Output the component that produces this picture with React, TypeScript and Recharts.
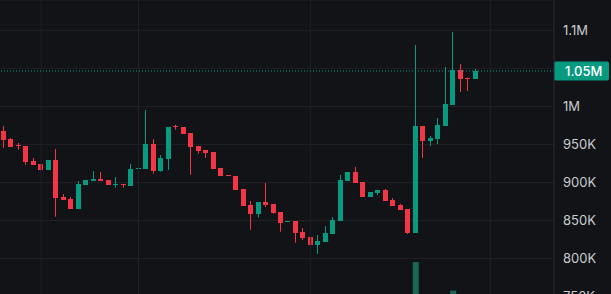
import React from "react";
import {Bar, CartesianGrid, Cell, ComposedChart, ReferenceLine, XAxis, YAxis} from "recharts";

const UP = "#089981";
const DOWN = "#f23645";
const BG = "#121316";
const GRID = "#1f2126";

// 64 candles, then empty slots on the right (chart offset)
const opens = [
    967700, 956800, 948900, 947900, 928200, 924300, 916400, 929500, 880800, 878200,
    865100, 896600, 902300, 904500, 903200, 897000, 897900, 895700, 917700, 917700,
    950600, 915400, 930800, 973800, 972900, 965000, 947900, 942700, 940000, 919000,
    909800, 908500, 891400, 870300, 858900, 874300, 871600, 861100, 848400, 849300,
    834800, 828200, 817700, 821600, 832200, 849300, 901900, 913700, 900600, 880800,
    886100, 890100, 876900, 870300, 865100, 833500, 974200, 954500, 957100, 974200,
    1001900, 1047900, 1037800, 1036100,
];
const highs = [
    974200, 958500, 951900, 947900, 932200, 924500, 929500, 944000, 884800, 880800,
    901900, 903200, 915000, 913700, 903200, 907200, 897900, 924300, 922000, 995300,
    957100, 936100, 972900, 976000, 972900, 965000, 947900, 942700, 940000, 919000,
    909800, 908500, 891400, 875600, 874300, 899300, 871600, 861100, 849300, 849300,
    840100, 828200, 830900, 842700, 854500, 909800, 913700, 920300, 900600, 887400,
    890100, 891400, 879500, 871600, 865100, 1080800, 974200, 961100, 984800, 1051900,
    1097900, 1055800, 1037800, 1049200,
];
const lows = [
    945700, 947000, 943100, 923300, 922900, 916000, 916400, 854900, 876900, 865100,
    865100, 896600, 902300, 901900, 897000, 893100, 893100, 895700, 915400, 917700,
    911500, 914100, 916400, 969400, 964100, 910200, 937800, 932200, 918100, 908900,
    908900, 890400, 869400, 837800, 853600, 867700, 858900, 835200, 848400, 820700,
    824300, 816400, 805900, 821600, 832200, 849300, 901900, 899300, 880800, 880800,
    883500, 875600, 869000, 863700, 832200, 833500, 932200, 947900, 950600, 974200,
    1001900, 1019000, 1020300, 1036100,
];
const closes = [
    956200, 947000, 947500, 927300, 922900, 916400, 929500, 879900, 876900, 865100,
    897900, 903200, 904500, 901900, 897000, 898300, 896600, 917700, 919400, 950600,
    915400, 932200, 972900, 972500, 964100, 947000, 941800, 938700, 918100, 908900,
    908900, 890400, 869400, 858900, 874300, 870300, 860200, 847000, 849300, 833900,
    826900, 817700, 823000, 833500, 850600, 903200, 913700, 899300, 880800, 887400,
    890100, 875600, 869000, 863700, 833500, 974200, 954500, 958500, 975600, 1003200,
    1047900, 1036100, 1036100, 1046600,
];
const volumes = [
    14, 10, 8, 16, 9, 10, 12, 38, 9, 12,
    20, 9, 10, 9, 7, 8, 6, 16, 7, 36,
    30, 14, 28, 10, 9, 22, 8, 9, 14, 10,
    5, 12, 15, 20, 16, 14, 10, 14, 6, 15,
    10, 11, 12, 10, 14, 34, 10, 12, 13, 8,
    7, 11, 8, 7, 20, 88, 30, 12, 24, 42,
    54, 26, 12, 10,
];
const EMPTY_SLOTS = 10;
const timeGridSlots = [5, 18, 41, 65];
const priceTicks = [750000, 800000, 850000, 900000, 950000, 1000000, 1050000, 1100000];

const data = Array.from({length: opens.length + EMPTY_SLOTS}, (_, i) =>
    i < opens.length
        ? {
            i,
            open: opens[i],
            high: highs[i],
            low: lows[i],
            close: closes[i],
            range: [lows[i], highs[i]],
            volume: volumes[i],
        }
        : {i}
);

const lastClose = closes[closes.length - 1];

const fmtPrice = (v: number, digits?: number) => {
    if (v >= 1e6) {
        const s = digits != null ? (v / 1e6).toFixed(digits) : String(+(v / 1e6).toFixed(3));
        return `${s}M`;
    }
    return `${Math.round(v / 1000)}K`;
};

// tick hidden behind the last-price tag
const fmtTick = (v: number) => (fmtPrice(v) === fmtPrice(lastClose, 2) ? "" : fmtPrice(v));

const Candle = (props: any) => {
    const {x, y, width, height, payload} = props;
    if (!payload || payload.open == null) return null;
    const {open, close, high, low} = payload;
    const top = Math.min(y, y + height);
    const h = Math.abs(height);
    const span = high - low || 1;
    const yOf = (v: number) => top + ((high - v) / span) * h;
    const color = close >= open ? UP : DOWN;
    const cx = Math.floor(x + width / 2) + 0.5;
    const bTop = Math.round(Math.min(yOf(open), yOf(close)));
    const bBot = Math.round(Math.max(yOf(open), yOf(close)));
    return (
        <g>
            <line x1={cx} x2={cx} y1={top} y2={top + h} stroke={color} strokeWidth={1}/>
            <rect x={cx - 2.5} y={bTop} width={5} height={Math.max(1, bBot - bTop)} fill={color}/>
        </g>
    );
};

const PriceTag = (props: any) => {
    const {viewBox} = props;
    if (!viewBox) return null;
    const x = viewBox.x + viewBox.width;
    const y = viewBox.y;
    return (
        <g>
            <rect x={x} y={y - 9.5} width={55} height={19} rx={2} fill={UP}/>
            <text x={x + 11} y={y} dy="0.36em" fill="#ffffff" fontSize={13} fontFamily="Inter" fontWeight={500}>
                {fmtPrice(lastClose, 2)}
            </text>
        </g>
    );
};

export default function App() {
    return (
        <div style={{position: "fixed", top: 0, left: 0, width: 611, height: 294, overflow: "hidden", background: BG}}>
            <ComposedChart width={611} height={336} data={data} margin={{top: 0, right: 0, bottom: 0, left: 0}}>
                <CartesianGrid vertical={false} stroke={GRID}/>
                <XAxis dataKey="i" type="category" hide/>
                <XAxis dataKey="i" type="category" xAxisId="vol" hide/>
                <YAxis
                    orientation="right"
                    width={57}
                    domain={[698000, 1140000]}
                    allowDataOverflow
                    ticks={priceTicks}
                    tickFormatter={fmtTick}
                    tickLine={false}
                    tickSize={0}
                    tickMargin={9}
                    axisLine={{stroke: "#2a2d33"}}
                    tick={{fill: "#c9cbd1", fontSize: 13, fontFamily: "Inter"}}
                />
                <YAxis yAxisId="vol" hide domain={[0, 400]}/>
                {timeGridSlots.map((s) => (
                    <ReferenceLine key={s} x={s} stroke={GRID}/>
                ))}
                <Bar dataKey="volume" xAxisId="vol" yAxisId="vol" barSize={6} isAnimationActive={false}>
                    {data.map((d: any, idx) => (
                        <Cell key={idx} fill={d.close >= d.open ? "#1a6659" : "#82252e"}/>
                    ))}
                </Bar>
                <Bar dataKey="range" barSize={5} shape={<Candle/>} isAnimationActive={false}/>
                <ReferenceLine
                    y={lastClose}
                    stroke={UP}
                    strokeDasharray="1 2"
                    label={<PriceTag/>}
                />
            </ComposedChart>
        </div>
    );
}
